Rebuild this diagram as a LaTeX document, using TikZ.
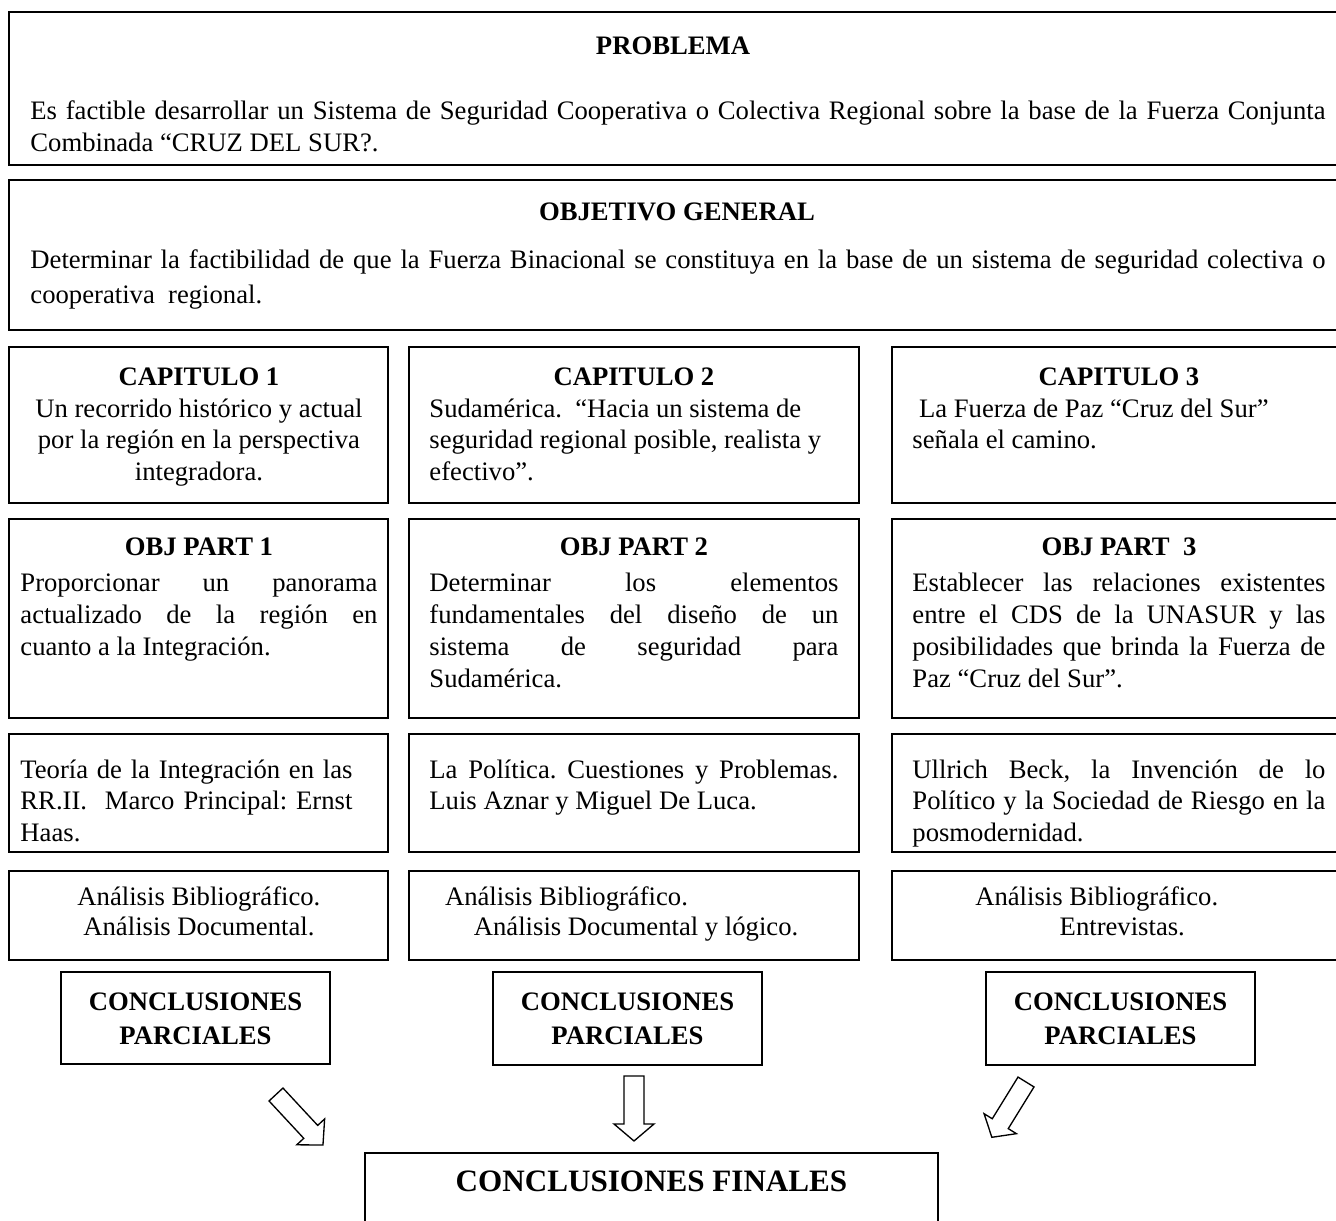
\documentclass[tikz,border=0pt]{standalone}
\usepackage{fontspec}
\setmainfont{Liberation Serif}
\usetikzlibrary{fit}
\frenchspacing
\newcommand\jl[1]{\makebox[\linewidth][s]{#1}}
\newcommand\cl[1]{\makebox[\linewidth][c]{#1}}
\begin{document}
\frenchspacing
\begin{tikzpicture}[x=0.45pt, y=-0.45pt,
  box/.style={draw, line width=0.75pt, inner sep=0pt},
  txt/.style={inner sep=0pt, anchor=base west, align=justify, font=\fontsize{12}{14.2}\selectfont},
  head/.style={inner sep=0pt, anchor=base, font=\bfseries\fontsize{12}{14.2}\selectfont},
  concl/.style={inner sep=0pt, anchor=base, align=center, font=\bfseries\fontsize{12}{15.3}\selectfont},
  blockarrow/.style={draw, line width=0.6pt, fill=white, line join=miter}]
\useasboundingbox (0,0) rectangle (1336,1221);
\fill[white] (0,0) rectangle (1336,1221);

% top boxes
\node[box, fit={(9,12) (1346,165)}] (prob) {};
\node[head] (probh) at (673,55) {PROBLEMA};
\node[txt, text width=582.75pt, font=\fontsize{12}{14.4}\selectfont] (probt) at (30,120)
  {\jl{Es factible desarrollar un Sistema de Seguridad Cooperativa o Colectiva Regional sobre la base de la Fuerza Conjunta}\\
   Combinada “CRUZ DEL SUR?.};

\node[box, fit={(9,180) (1346,330)}] (objg) {};
\node[head] (objgh) at (677,221) {OBJETIVO GENERAL};
\node[txt, text width=582.75pt, font=\fontsize{12}{15.75}\selectfont] (objgt) at (30,269)
  {\jl{Determinar la factibilidad de que la Fuerza Binacional se constituya en la base de un sistema de seguridad colectiva o}\\
   cooperativa\ \ regional.};

% capitulo row
\node[box, fit={(9,347) (388,503)}] (cap1) {};
\node[txt, text width=160.65pt] (cap1t) at (20,385.5)
  {\cl{\textbf{CAPITULO 1}}\\ \cl{Un recorrido histórico y actual}\\ \cl{por la región en la perspectiva}\\ \cl{integradora.}};
\node[box, fit={(409,347) (859,503)}] (cap2) {};
\node[txt, text width=184.05pt] (cap2t) at (429,385.5)
  {\cl{\textbf{CAPITULO 2}}\\ Sudamérica.\ \ “Hacia un sistema de\\ seguridad regional posible, realista y\\ efectivo”.};
\node[box, fit={(892,347) (1346,503)}] (cap3) {};
\node[txt, text width=185.85pt] (cap3t) at (912,385.5)
  {\cl{\textbf{CAPITULO 3}}\\ \hspace*{3pt}La Fuerza de Paz “Cruz del Sur”\\ señala el camino.};

% obj part row
\node[box, fit={(9,519) (388,718)}] (op1) {};
\node[txt, text width=160.65pt, font=\fontsize{12}{14.4}\selectfont] (op1t) at (20,556)
  {\cl{\textbf{OBJ PART 1}}\\[1.6pt] \jl{Proporcionar un panorama}\\ \jl{actualizado de la región en}\\ cuanto a la Integración.};
\node[box, fit={(409,519) (859,718)}] (op2) {};
\node[txt, text width=184.05pt, font=\fontsize{12}{14.4}\selectfont] (op2t) at (429,556)
  {\cl{\textbf{OBJ PART 2}}\\[1.6pt] \jl{Determinar los elementos}\\ \jl{fundamentales del diseño de un}\\ \jl{sistema de seguridad para}\\ Sudamérica.};
\node[box, fit={(892,519) (1346,718)}] (op3) {};
\node[txt, text width=185.85pt, font=\fontsize{12}{14.4}\selectfont] (op3t) at (912,556)
  {\cl{\textbf{OBJ PART\ \ 3}}\\[1.6pt] \jl{Establecer las relaciones existentes}\\ \jl{entre el CDS de la UNASUR y las}\\ \jl{posibilidades que brinda la Fuerza de}\\ Paz “Cruz del Sur”.};

% theory row
\node[box, fit={(9,734) (388,852)}] (th1) {};
\node[txt, text width=160.65pt] (th1t) at (20,778)
  {\makebox[149.4pt][s]{Teoría de la Integración en las}\\ \makebox[149.4pt][s]{RR.II.\ \ Marco Principal: Ernst}\\ Haas.};
\node[box, fit={(409,734) (859,852)}] (th2) {};
\node[txt, text width=184.05pt] (th2t) at (429,778)
  {\jl{La Política. Cuestiones y Problemas.}\\ Luis Aznar y Miguel De Luca.};
\node[box, fit={(892,734) (1346,852)}] (th3) {};
\node[txt, text width=185.85pt] (th3t) at (912,778)
  {\jl{Ullrich Beck, la Invención de lo}\\ \jl{Político y la Sociedad de Riesgo en la}\\ posmodernidad.};

% analysis row
\node[box, fit={(9,871) (388,960)}] (an1) {};
\node[txt, text width=160.65pt, font=\fontsize{12}{13.5}\selectfont] (an1t) at (20,905)
  {\cl{Análisis Bibliográfico.}\\ \cl{Análisis Documental.}};
\node[box, fit={(409,871) (859,960)}] (an2) {};
\node[txt, text width=184.05pt, font=\fontsize{12}{13.5}\selectfont] (an2t) at (429,905)
  {\hspace*{7pt}Análisis Bibliográfico.\\ \hspace*{20pt}Análisis Documental y lógico.};
\node[box, fit={(892,871) (1346,960)}] (an3) {};
\node[txt, text width=185.85pt, font=\fontsize{12}{13.5}\selectfont] (an3t) at (912,905)
  {\cl{Análisis Bibliográfico.\hspace*{20pt}}\\ \cl{\hspace*{3pt}Entrevistas.}};

% conclusiones parciales
\node[box, fit={(61,972) (330,1064)}] (cp1) {};
\node[concl] (cp1t) at (195.5,1044) {CONCLUSIONES\\PARCIALES};
\node[box, fit={(493,972) (762,1065)}] (cp2) {};
\node[concl] (cp2t) at (627.5,1044) {CONCLUSIONES\\PARCIALES};
\node[box, fit={(986,972) (1255,1065)}] (cp3) {};
\node[concl] (cp3t) at (1120.5,1044) {CONCLUSIONES\\PARCIALES};

% conclusiones finales
\node[box, fit={(365,1153) (938,1245)}] (cf) {};
\node[inner sep=0pt, anchor=base, font=\bfseries\fontsize{14}{16}\selectfont] (cft) at (651.5,1191) {CONCLUSIONES FINALES};

% block arrows
\draw[blockarrow, shift={(276,1094.5)}, rotate=-47.1]
  (0,-9.5) -- (51,-9.5) -- (51,-19) -- (69,0) -- (51,19) -- (51,9.5) -- (0,9.5) -- cycle;
\draw[blockarrow, shift={(634,1076)}, rotate=-90]
  (0,-10) -- (48,-10) -- (48,-20) -- (65,0) -- (48,20) -- (48,10) -- (0,10) -- cycle;
\draw[blockarrow, shift={(1026,1082)}, rotate=-121.7]
  (0,-9.4) -- (49,-9.4) -- (49,-19) -- (65,0) -- (49,19) -- (49,9.4) -- (0,9.4) -- cycle;
\end{tikzpicture}
\end{document}
